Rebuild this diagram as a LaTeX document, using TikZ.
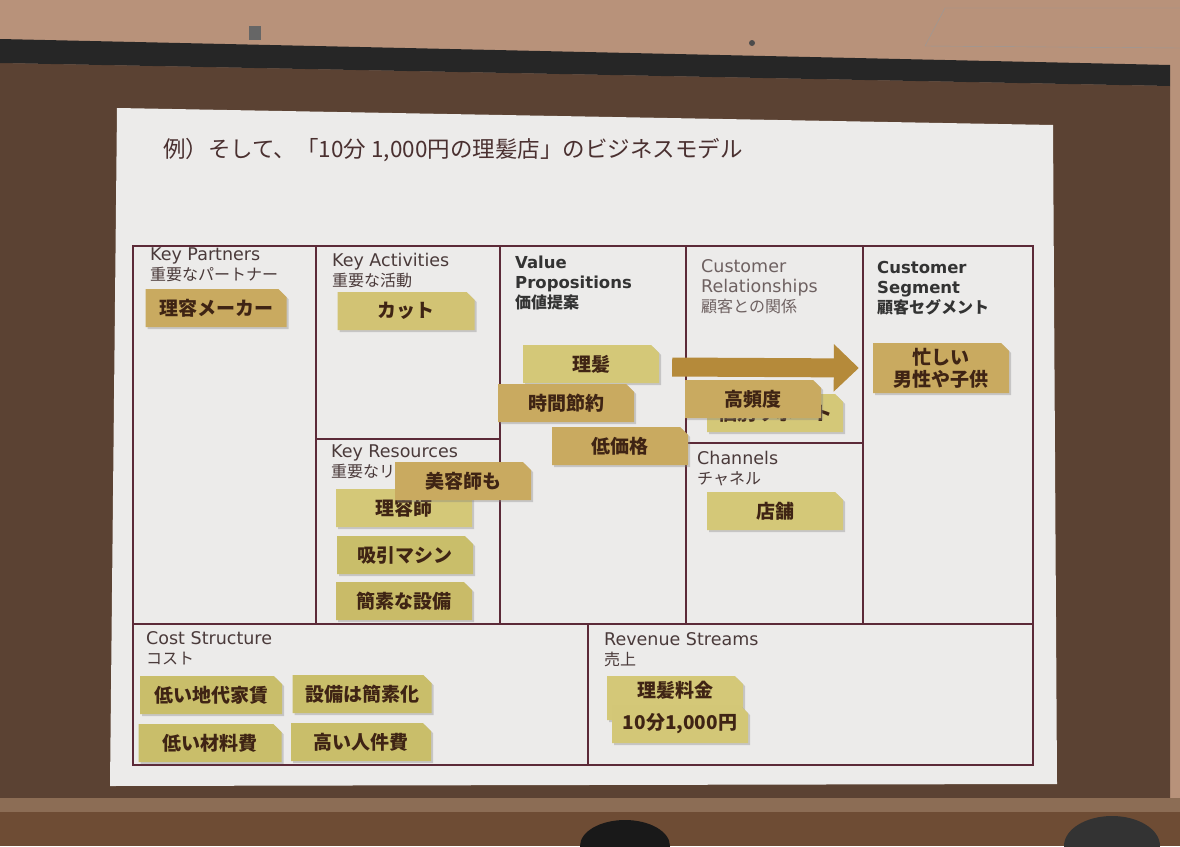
\documentclass[tikz,border=0pt]{standalone}
\usepackage{fontspec}
\setmainfont{DejaVu Sans}
\newfontfamily\jp{Noto Sans CJK JP}
\usetikzlibrary{shapes.misc,shadows,arrows.meta}

\definecolor{ceilc}{HTML}{B8927A}
\definecolor{wallc}{HTML}{5B4233}
\definecolor{stripc}{HTML}{8C6D55}
\definecolor{floorc}{HTML}{6E4C34}
\definecolor{slidec}{HTML}{ECEBEA}
\definecolor{gridc}{HTML}{5C2A38}
\definecolor{labelc}{HTML}{4A3A3A}
\definecolor{titlec}{HTML}{4A3030}
\definecolor{notetext}{HTML}{3F2414}
\definecolor{noteGold}{HTML}{C9AA60}
\definecolor{noteLight}{HTML}{D4C878}
\definecolor{noteOlive}{HTML}{C9BE6A}
\definecolor{arrowc}{HTML}{B58A3A}

\tikzset{
  note/.style={chamfered rectangle, chamfered rectangle corners=north east,
    chamfered rectangle xsep=4pt, chamfered rectangle ysep=4pt,
    minimum width=136pt, minimum height=38pt, inner sep=0pt,
    text=notetext, font=\jp\bfseries\fontsize{19}{22}\selectfont, align=center,
    drop shadow={shadow xshift=2pt, shadow yshift=-2pt, opacity=0.35}},
  lbl/.style={anchor=north west, inner sep=0pt, align=left,
    font=\fontsize{17.5}{20}\selectfont, text=labelc},
  jlbl/.style={font=\jp\fontsize{16}{20}\selectfont},
  blbl/.style={lbl, font=\bfseries\fontsize{16.5}{20}\selectfont, text=black!80},
  grid/.style={gridc, line width=1.3pt},
}

\begin{document}
\begin{tikzpicture}[x=1pt, y=-1pt]
\useasboundingbox (0,0) rectangle (1180,846);

% room around the screen
\fill[ceilc] (0,0) rectangle (1180,846);
\fill[wallc] (0,63) -- (1170,86) -- (1170,798) -- (0,798) -- cycle;
\fill[black!85] (0,39) -- (1170,65) -- (1170,86) -- (0,63) -- cycle;
\fill[stripc] (0,798) rectangle (1180,812);
\fill[floorc] (0,812) rectangle (1180,846);
\fill[black!60] (249,26) rectangle (261,40);
\fill[black!70] (752,43) circle (3pt);
\draw[black!40] (925,46) -- (945,8) -- (1180,8);
\draw[black!40] (925,46) -- (1180,48);
\fill[black!90] (625,846) ellipse (45pt and 26pt);
\fill[black!80] (1112,846) ellipse (48pt and 30pt);

% slide
\fill[slidec] (117,108) -- (1053,125) -- (1057,784) -- (110,786) -- cycle;

\node[anchor=west, inner sep=0pt, text=titlec, font=\jp\fontsize{22.5}{26}\selectfont]
  (title) at (163,150) {例）そして、「10分 1,000円の理髪店」のビジネスモデル};

% canvas grid
\draw[grid] (133,246) rectangle (1033,765);
\draw[grid] (133,624) -- (1033,624);
\draw[grid] (316,246) -- (316,624);
\draw[grid] (500,246) -- (500,624);
\draw[grid] (686,246) -- (686,624);
\draw[grid] (863,246) -- (863,624);
\draw[grid] (316,439) -- (500,439);
\draw[grid] (686,443) -- (863,443);
\draw[grid] (588,624) -- (588,765);

% block titles
\node[lbl] (kp) at (150,248) {Key Partners\\{\jp\fontsize{16}{20}\selectfont 重要なパートナー}};
\node[lbl] (ka) at (332,253) {Key Activities\\{\jp\fontsize{16}{20}\selectfont 重要な活動}};
\node[blbl] (vp) at (515,256) {Value\\Propositions\\{\jp\fontsize{16}{20}\selectfont 価値提案}};
\node[lbl, text=labelc!80] (cr) at (701,259) {Customer\\Relationships\\{\jp\fontsize{16}{20}\selectfont 顧客との関係}};
\node[blbl] (cs) at (877,261) {Customer\\Segment\\{\jp\fontsize{16}{20}\selectfont 顧客セグメント}};
\node[lbl] (kr) at (331,445) {Key Resources\\{\jp\fontsize{16}{20}\selectfont 重要なリソース}};
\node[lbl] (ch) at (697,451) {Channels\\{\jp\fontsize{16}{20}\selectfont チャネル}};
\node[lbl] (cost) at (146,631) {Cost Structure\\{\jp\fontsize{16}{20}\selectfont コスト}};
\node[lbl] (rev) at (604,632) {Revenue Streams\\{\jp\fontsize{16}{20}\selectfont 売上}};

% sticky notes
\node[note, fill=noteGold, minimum width=141pt] (maker) at (216,308) {理容メーカー};
\node[note, fill=noteLight!85!noteGold, minimum width=137pt] (cut) at (406,311) {カット};

\node[note, fill=noteLight] (rihatsu) at (591,364) {理髪};
\node[note, fill=noteGold] (jikan) at (566,403) {時間節約};
\node[note, fill=noteGold] (teikakaku) at (620,446) {低価格};

\node[note, fill=noteLight] (kobetsu) at (775,413) {個別サポート};
\node[note, fill=noteGold] (hindo) at (753,399) {高頻度};

\node[note, fill=noteGold, minimum height=50pt] (seg) at (941,368) {忙しい\\男性や子供};

\node[note, fill=noteLight] (riyoshi) at (404,508) {理容師};
\node[note, fill=noteGold] (biyoshi) at (463,481) {美容師も};
\node[note, fill=noteOlive] (kyuin) at (405,555) {吸引マシン};
\node[note, fill=noteOlive!85!noteGold] (setsubi) at (404,601) {簡素な設備};

\node[note, fill=noteLight] (tenpo) at (775,511) {店舗};

\node[note, fill=noteOlive, minimum width=142pt] (yachin) at (211,695) {低い地代家賃};
\node[note, fill=noteOlive, minimum width=139pt] (kanso) at (362,694) {設備は簡素化};
\node[note, fill=noteOlive, minimum width=143pt] (zairyo) at (210,743) {低い材料費};
\node[note, fill=noteOlive, minimum width=140pt] (jinken) at (361,742) {高い人件費};

\node[note, fill=noteLight, minimum height=44pt, text depth=18pt] (ryokin) at (675,698) {理髪料金};
\node[note, fill=noteLight!90!noteOlive] (price) at (680,724) {10分1,000円};

% value to segment
\draw[arrowc, line width=19pt, -{Triangle[width=46pt, length=25pt]}]
  ([xshift=13pt]rihatsu.east |- 0,367) -- ([xshift=-14pt]seg.west);

\end{tikzpicture}
\end{document}
